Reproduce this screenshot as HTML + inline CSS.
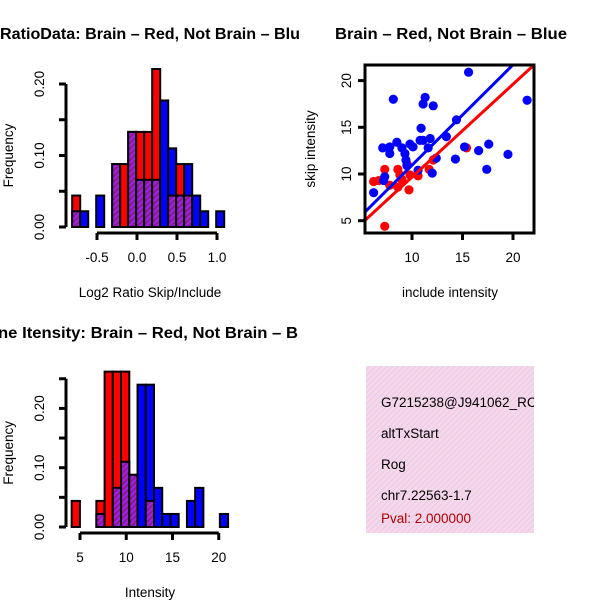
<!DOCTYPE html>
<html><head><meta charset="utf-8"><style>
html,body{margin:0;padding:0;background:#fff;}
svg{display:block;font-family:"Liberation Sans",sans-serif;}
</style></head><body>
<svg id="c" width="600" height="600" viewBox="0 0 600 600" xmlns="http://www.w3.org/2000/svg">
<defs>
<pattern id="hatch" width="4" height="4" patternUnits="userSpaceOnUse" patternTransform="rotate(45)">
<rect width="4" height="4" fill="#a020f0"/><rect width="2" height="4" fill="#8b1a8b"/></pattern>
<pattern id="pink" width="4" height="4" patternUnits="userSpaceOnUse" patternTransform="rotate(45)">
<rect width="4" height="4" fill="#f8d6f2"/><rect width="1.3" height="4" fill="#e8d0d8"/></pattern>
<clipPath id="leftclip"><rect x="0" y="0" width="300" height="600"/></clipPath>
<clipPath id="boxclip"><rect x="366" y="366" width="168" height="167"/></clipPath>
<clipPath id="scclip"><rect x="365" y="65" width="169" height="168"/></clipPath>
</defs>
<g clip-path="url(#leftclip)">
<text x="0" y="39" font-size="16" font-weight="bold" textLength="300" lengthAdjust="spacingAndGlyphs">RatioData: Brain – Red, Not Brain – Blu</text>
<text x="-2" y="338" font-size="16" font-weight="bold" textLength="300" lengthAdjust="spacingAndGlyphs">ne Itensity: Brain – Red, Not Brain – B</text>
</g>
<text x="335" y="39" font-size="16" font-weight="bold" textLength="232" lengthAdjust="spacingAndGlyphs">Brain – Red, Not Brain – Blue</text>
<g id="h1"></g>
<g id="h2"></g>
<g id="sc"></g>
<g>
<rect x="366" y="366" width="168" height="167" fill="url(#pink)"/>
<g clip-path="url(#boxclip)" font-size="13.5">
<text x="381" y="407">G7215238@J941062_RC</text>
<text x="381" y="438">altTxStart</text>
<text x="381" y="469">Rog</text>
<text x="381" y="500">chr7.22563-1.7</text>
<text x="381" y="523" fill="#b00000">Pval: 2.000000</text>
</g></g>
</svg>
<script>
// Ratio histogram data
const ratioStart = -0.81;
const ratioWidth = 0.1;
const ratioRed  = [0.044,0,0,0,0,0.088,0.088,0.133,0.133,0.133,0.221,0,0.044,0.088,0.044,0,0,0,0];
const ratioBlue = [0.022,0.022,0,0.044,0,0.088,0,0.133,0.066,0.066,0.066,0.177,0.11,0.044,0.088,0.044,0.022,0,0.022];
const ratioXTicks = [-0.5,0.0,0.5,1.0];
const ratioXLabels = ["-0.5","0.0","0.5","1.0"];
const ratioYTicks = [0,0.05,0.10,0.15,0.20];
const ratioYLabels = ["0.00","","0.10","","0.20"];
// Intensity histogram data
const intStart = 4.1;
const intWidth = 0.89;
const intRed  = [0.044,0,0,0.044,0.262,0.262,0.262,0.088,0,0.044,0,0,0,0,0,0,0,0,0];
const intBlue = [0,0,0,0.022,0,0.066,0.11,0.088,0.24,0.24,0.066,0.022,0.022,0,0.044,0.066,0,0,0.022];
const intXTicks = [5,10,15,20];
const intXLabels = ["5","10","15","20"];
const intYTicks = [0,0.05,0.10,0.15,0.20,0.25];
const intYLabels = ["0.00","","0.10","","0.20",""];
// Scatter data
const redX = [7.3,6.2,6.7,7.3,8.6,8.8,7.8,8.6,9.7,9.0,9.8,10.6,11.7,12.1,15.4,9.5];
const redY = [4.4,9.2,9.3,10.5,10.5,9.9,8.8,8.6,8.3,9.4,9.9,9.8,10.5,11.5,12.8,11.1];
const blueX = [15.6,8.15,11.3,11.1,12.1,21.4,10.9,14.4,13.4,7.1,7.8,8.5,7.8,9.0,9.8,9.3,10.8,11.8,11.6,10.1,9.4,9.5,10.6,12.0,12.4,15.2,16.6,17.6,17.4,19.5,14.3,7.3,7.2,6.2,11.1];
const blueY = [20.9,18.0,18.2,17.5,17.3,17.9,14.9,15.8,14.0,12.8,12.9,13.4,12.2,12.8,13.2,12.2,13.6,13.8,12.8,12.9,11.5,10.9,10.4,10.1,11.7,12.9,12.5,13.2,10.5,12.1,11.6,9.7,9.3,8.0,13.6];
const redFit = [-0.27, 0.994];
const blueFit = [0.18, 1.076];
const scXTicks = [10,15,20];
const scYTicks = [5,10,15,20];

const FS = 13.5;
const NS="http://www.w3.org/2000/svg";
function mk(parent,tag,attrs){const e=document.createElementNS(NS,tag);for(const k in attrs)e.setAttribute(k,attrs[k]);parent.appendChild(e);return e;}

function hist(gid,start,w,red,blue,xt,xl,yt,yl,xs,ys,axisY,yAxisX,xlabel,xlabY,name){
  const g=document.getElementById(gid);
  for(let i=0;i<red.length;i++){
    const x0=xs(start+i*w), x1=xs(start+(i+1)*w);
    const r=red[i], b=blue[i];
    const mx=Math.max(r,b), mn=Math.min(r,b);
    if(mx>0){
      const bar=mk(g,'rect',{x:x0,y:ys(mx),width:x1-x0,height:ys(0)-ys(mx),fill:r>=b?'#ff0000':'#0000ff',stroke:'#000','stroke-width':2});
      
      
    }
    if(mn>0){
      const ov=mk(g,'rect',{x:x0,y:ys(mn),width:x1-x0,height:ys(0)-ys(mn),fill:'url(#hatch)',stroke:'#000','stroke-width':2});
      
      
    }
  }
  const xa=mk(g,'g',{});
  
  
  mk(xa,'line',{x1:xs(xt[0]),x2:xs(xt[xt.length-1]),y1:axisY,y2:axisY,stroke:'#000','stroke-width':3});
  xt.forEach((t,i)=>{
    mk(xa,'line',{x1:xs(t),x2:xs(t),y1:axisY,y2:axisY+7,stroke:'#000','stroke-width':3});
    const tx=mk(xa,'text',{x:xs(t),y:axisY+29,'font-size':FS,'text-anchor':'middle'});tx.textContent=xl[i];
  });
  const ya=mk(g,'g',{});
  
  
  mk(ya,'line',{x1:yAxisX,x2:yAxisX,y1:ys(yt[0]),y2:ys(yt[yt.length-1]),stroke:'#000','stroke-width':3});
  yt.forEach((t,i)=>{
    mk(ya,'line',{x1:yAxisX-7,x2:yAxisX,y1:ys(t),y2:ys(t),stroke:'#000','stroke-width':3});
    if(yl[i]){const tx=mk(ya,'text',{x:0,y:0,'font-size':FS,'text-anchor':'middle',transform:`translate(${yAxisX-22},${ys(t)}) rotate(-90)`});tx.textContent=yl[i];}
  });
  const xlab=mk(g,'text',{x:150,y:xlabY,'font-size':FS,'text-anchor':'middle'});xlab.textContent=xlabel;
  
  
  const ymid=(ys(yt[0])+ys(yt[yt.length-1]))/2;
  const ylab=mk(g,'text',{x:0,y:0,'font-size':FS,'text-anchor':'middle',transform:`translate(13,${ymid}) rotate(-90)`});ylab.textContent='Frequency';
  
  
}
hist('h1',ratioStart,ratioWidth,ratioRed,ratioBlue,ratioXTicks,ratioXLabels,ratioYTicks,ratioYLabels,
  v=>137+v*80, v=>227-v*715, 233, 66, 'Log2 Ratio Skip/Include', 297, 'ratio');
hist('h2',intStart,intWidth,intRed,intBlue,intXTicks,intXLabels,intYTicks,intYLabels,
  v=>80+(v-5)*9.25, v=>527-v*593, 533, 66, 'Intensity', 597, 'intensity');

// scatter
(function(){
  const g=document.getElementById('sc');
  const xs=v=>412+(v-10)*10.1, ys=v=>174-(v-10)*9.34;
  const pts=mk(g,'g',{'clip-path':'url(#scclip)'});
  redX.forEach((x,i)=>{const c=mk(pts,'circle',{cx:xs(x),cy:ys(redY[i]),r:4.6,fill:'#ff0000'});
    
    });
  blueX.forEach((x,i)=>{const c=mk(pts,'circle',{cx:xs(x),cy:ys(blueY[i]),r:4.6,fill:'#0000ff'});
    
    });
  [[redFit,'#ff0000','red-fit-line'],[blueFit,'#0000ff','blue-fit-line']].forEach(([f,col,n])=>{
    const xa=5.3,xb=22.2;
    const l=mk(pts,'line',{x1:xs(xa),y1:ys(f[0]+f[1]*xa),x2:xs(xb),y2:ys(f[0]+f[1]*xb),stroke:col,'stroke-width':3});
    
    
  });
  mk(g,'rect',{x:365,y:65,width:169,height:168,fill:'none',stroke:'#000','stroke-width':3});
  scXTicks.forEach(t=>{
    mk(g,'line',{x1:xs(t),x2:xs(t),y1:233,y2:240,stroke:'#000','stroke-width':3});
    const tx=mk(g,'text',{x:xs(t),y:262,'font-size':FS,'text-anchor':'middle'});tx.textContent=String(t);
  });
  scYTicks.forEach(t=>{
    mk(g,'line',{x1:358,x2:365,y1:ys(t),y2:ys(t),stroke:'#000','stroke-width':3});
    const tx=mk(g,'text',{x:0,y:0,'font-size':FS,'text-anchor':'middle',transform:`translate(351,${ys(t)}) rotate(-90)`});tx.textContent=String(t);
  });
  const xl=mk(g,'text',{x:450,y:297,'font-size':FS,'text-anchor':'middle'});xl.textContent='include intensity';
  
  
  const yl=mk(g,'text',{x:0,y:0,'font-size':FS,'text-anchor':'middle',transform:'translate(315,149) rotate(-90)'});yl.textContent='skip intensity';
  
  
})();
</script>
</body></html>
